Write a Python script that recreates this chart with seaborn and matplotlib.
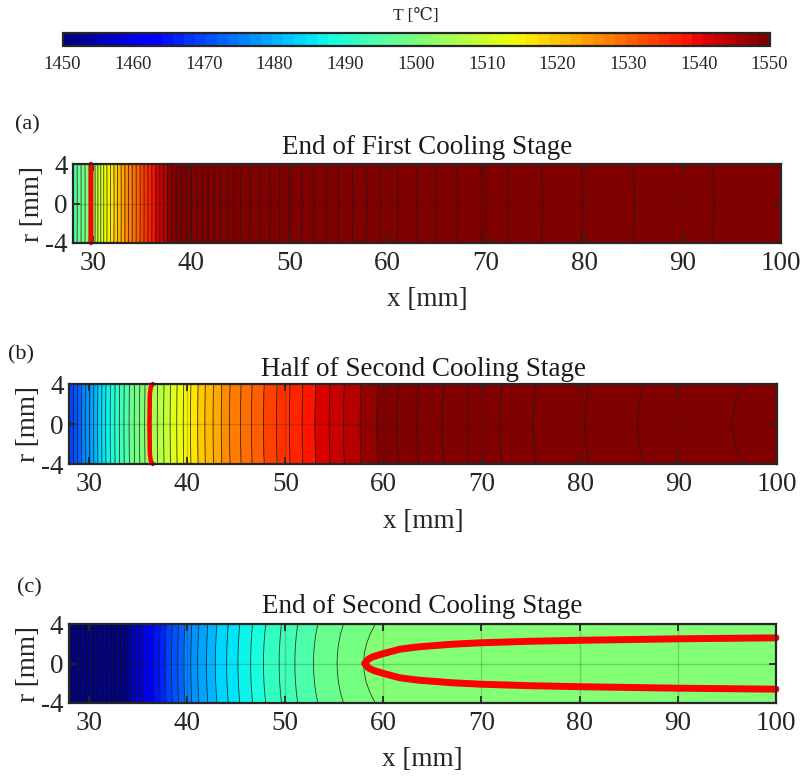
import numpy as np
import matplotlib
matplotlib.use("Agg")
import matplotlib.pyplot as plt
import seaborn as sns
from matplotlib.colors import ListedColormap, Normalize
from matplotlib.cm import ScalarMappable

# ---------------- data ----------------
# radial sampling rows [mm]
r_rows = [-4, -3, -2, -1, 0, 1, 2, 3, 4]

# (a) End of First Cooling Stage: centreline temperature and wall drop
xa = [28.0, 29.0, 29.8, 30.5, 31.25, 32.5, 34.0, 36.2, 38.0, 40.0, 42.0, 45.0,
      50.0, 55.0, 60.0, 63.0, 64.9, 67.1, 69.6, 72.3, 75.7, 79.8, 85.1, 93.2, 100.0]
Ta = [1494, 1499, 1503, 1508, 1513, 1520, 1528, 1539, 1548, 1556, 1563, 1572,
      1582, 1590, 1597, 1600, 1602, 1604, 1606, 1608, 1610, 1612, 1614, 1616, 1617]
da = [-0.05] * len(xa)
front_a_x = [29.8, 29.8, 29.8, 29.8, 29.8]
front_a_r = [-4.0, -2.0, 0.0, 2.0, 4.0]

# (b) Half of Second Cooling Stage
xb = [28.0, 29.66, 31.7, 33.56, 35.67, 37.6, 39.6, 41.8, 44.3, 47.1, 50.4, 53.0,
      55.9, 59.3, 63.4, 68.5, 75.2, 85.8, 95.5, 100.0]
Tb = [1468, 1476, 1486, 1494, 1502, 1508, 1514, 1520, 1526, 1531, 1536, 1540,
      1544, 1548, 1552, 1556, 1560, 1564, 1566, 1566.8]
db = [0.12] * 17 + [0.14, 0.2, 0.2]
front_b_x = [36.5, 36.3, 36.2, 36.15, 36.2, 36.3, 36.5]
front_b_r = [-4.0, -3.7, -3.0, 0.0, 3.0, 3.7, 4.0]

# (c) End of Second Cooling Stage
xc = [28.0, 29.8, 32.0, 34.2, 36.0, 37.8, 39.7, 41.1, 42.9, 45.2, 47.8, 51.0,
      52.9, 55.3, 58.0, 60.0, 65.0, 70.0, 80.0, 100.0]
Tc = [1425.5, 1434, 1444, 1454, 1462, 1468, 1474, 1478, 1482, 1486, 1490, 1494,
      1496, 1498, 1500, 1501.0, 1501.3, 1501.5, 1501.6, 1501.7]
dc = [0.3] * 12 + [0.35, 0.45, 0.6, 0.6, 0.6, 0.6, 0.6, 0.6]
front_c_x = [100.0, 90.0, 80.0, 75.0, 70.0, 67.0, 63.5, 61.7, 60.0, 59.0, 58.5, 58.1,
             58.5, 59.0, 60.0, 61.7, 63.5, 67.0, 70.0, 75.0, 80.0, 90.0, 100.0]
front_c_r = [2.6, 2.5, 2.35, 2.25, 2.1, 1.95, 1.68, 1.45, 1.0, 0.7, 0.45, 0.0,
             -0.45, -0.7, -1.0, -1.45, -1.68, -1.95, -2.1, -2.25, -2.35, -2.5, -2.6]

titles = ["End of First Cooling Stage", "Half of Second Cooling Stage",
          "End of Second Cooling Stage"]
panel_tags = ["(a)", "(b)", "(c)"]
x_ticks = [30, 40, 50, 60, 70, 80, 90, 100]
r_ticks = [-4, 0, 4]
cbar_ticks = [1450, 1460, 1470, 1480, 1490, 1500, 1510, 1520, 1530, 1540, 1550]
levels = np.arange(1400, 1632, 2)

# ---------------- style ----------------
sns.set_theme(style="ticks")
plt.rcParams["font.family"] = ["Liberation Serif", "DejaVu Serif", "DejaVu Sans"]
plt.rcParams["axes.unicode_minus"] = False

cmap = ListedColormap(matplotlib.colormaps["jet"].resampled(64)(np.arange(64)))
norm = Normalize(vmin=1450, vmax=1550)
dark = "#262626"

W, H = 802, 782
fig = plt.figure(figsize=(W / 100, H / 100), dpi=100)


def frac(x0, y0, x1, y1):
    return [x0 / W, 1 - y1 / H, (x1 - x0) / W, (y1 - y0) / H]


boxes = [frac(73.3, 164, 781, 243), frac(69.3, 384, 776.7, 464), frac(69, 624, 776, 703)]
tag_pos = [(15, 125), (8, 355), (17, 588)]
title_pad = [7.5, 6.0, 8.0]

panels = [(xa, Ta, da, front_a_x, front_a_r, 3.2),
          (xb, Tb, db, front_b_x, front_b_r, 3.2),
          (xc, Tc, dc, front_c_x, front_c_r, 5.0)]

rr = np.asarray(r_rows, dtype=float)
for k, (xs, tcen, dw, fx, fr, flw) in enumerate(panels):
    ax = fig.add_axes(boxes[k])
    T = np.asarray(tcen)[None, :] - np.asarray(dw)[None, :] * (rr[:, None] / 4.0) ** 2
    ax.contourf(xs, rr, T, levels=levels, cmap=cmap, norm=norm, zorder=1)
    ax.contour(xs, rr, T, levels=levels, colors="k", linewidths=0.6, alpha=0.85, zorder=2)
    ax.plot(fx, fr, color="red", lw=flw, zorder=5, clip_on=False,
            solid_capstyle="round", solid_joinstyle="round")
    ax.set_xlim(28, 100)
    ax.set_ylim(-4, 4)
    ax.set_xticks(x_ticks)
    ax.set_yticks(r_ticks)
    ax.set_axisbelow(False)
    ax.grid(True, color="k", alpha=0.2, lw=1.0)
    for s in ax.spines.values():
        s.set_color(dark)
        s.set_linewidth(1.6)
        s.set_zorder(6)
    ax.tick_params(direction="in", length=5, width=1.3, color=dark, top=True, right=True,
                   labelsize=19.5, labelcolor=dark)
    ax.tick_params(axis="x", pad=6)
    ax.tick_params(axis="y", pad=4)
    ax.set_xlabel("x [mm]", fontsize=19.5, color=dark)
    ax.set_ylabel("r [mm]", fontsize=19.5, color=dark)
    ax.xaxis.set_label_coords(0.5, -0.557)
    ax.yaxis.set_label_coords(-0.04, 0.5)
    ax.set_title(titles[k], fontsize=19.5, pad=title_pad[k], color="k")
    fig.text(tag_pos[k][0] / W, 1 - tag_pos[k][1] / H, panel_tags[k], fontsize=16,
             ha="left", va="center", color="k")

# colorbar
cax = fig.add_axes(frac(62.5, 33, 769.5, 46))
cb = fig.colorbar(ScalarMappable(norm=norm, cmap=cmap), cax=cax, orientation="horizontal",
                  ticks=cbar_ticks)
cb.outline.set_linewidth(1.6)
cb.outline.set_edgecolor(dark)
cax.tick_params(direction="in", length=6, width=1.3, color=dark, bottom=True, top=False,
                labelsize=13.5, labelcolor=dark, pad=7)
fig.text(416 / W, 1 - 16 / H, "T [℃]", fontsize=12.5, ha="center", va="center", color=dark)

fig.savefig("out.png", dpi=100)
